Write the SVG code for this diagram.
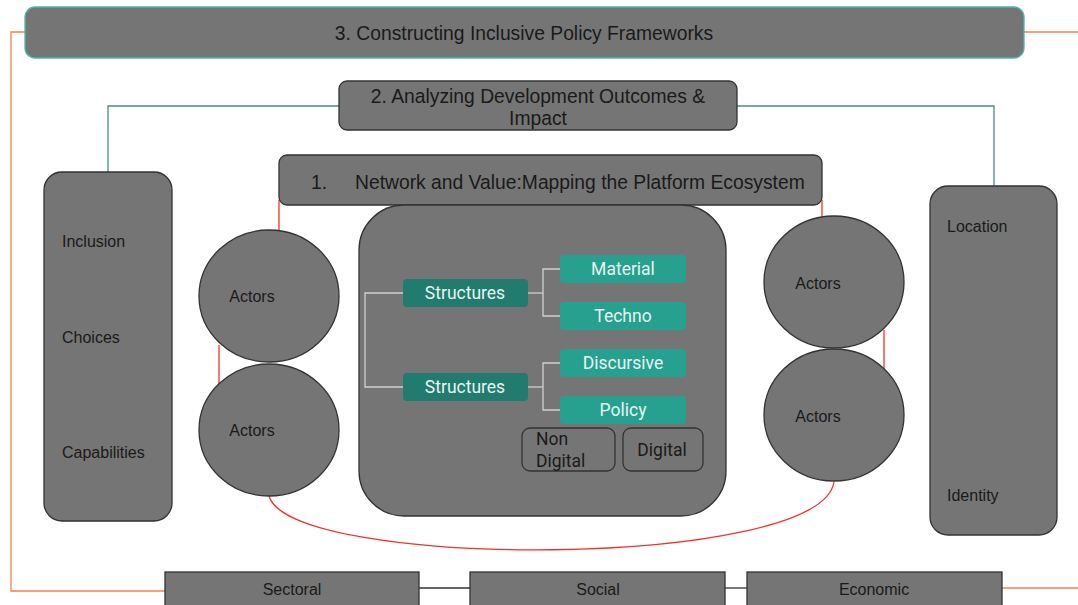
<svg xmlns="http://www.w3.org/2000/svg" width="1078" height="605" viewBox="0 0 1078 605">
<style>
.g{fill:#757575;stroke:#333;stroke-width:1.3}
.t{font-family:"Liberation Sans",Arial,sans-serif;fill:#1a1a1a;font-size:16px}
.h{font-size:19.3px}
.s{fill:#217b6e}
.c{fill:#26a08f}
.w{font-family:Roboto,"Liberation Sans",sans-serif;font-size:17.5px;fill:#e6f4f2;text-anchor:middle}
.d{font-family:Roboto,"Liberation Sans",sans-serif;font-size:17.5px;fill:#1a1a1a}
.tree{fill:none;stroke:#d0d0d0;stroke-width:1.3}
</style>
<rect width="1078" height="605" fill="#fff"/>
<g id="connectors" fill="none">
<polyline points="25,32 11,32 11,591 165,591" stroke="#f4804e" stroke-width="1.3"/>
<line x1="1024" y1="32" x2="1078" y2="32" stroke="#f4804e" stroke-width="1.3"/>
<line x1="1002" y1="588" x2="1078" y2="588" stroke="#f4804e" stroke-width="1.3"/>
<polyline points="339,106 108,106 108,172" stroke="#4a8a85" stroke-width="1.3"/>
<polyline points="737,106 994,106 994,186" stroke="#4a8a85" stroke-width="1.3"/>
<line x1="279" y1="200" x2="279" y2="232" stroke="#f03030" stroke-width="1.3"/>
<line x1="822" y1="200" x2="822" y2="218" stroke="#f03030" stroke-width="1.3"/>
<line x1="219" y1="345" x2="219" y2="385" stroke="#f03030" stroke-width="1.3"/>
<line x1="884" y1="330" x2="884" y2="370" stroke="#f03030" stroke-width="1.3"/>
<path d="M269,496 C290,570 820,570 834,482" stroke="#f03030" stroke-width="1.3"/>
<line x1="419" y1="588" x2="470" y2="588" stroke="#333" stroke-width="1.3"/>
<line x1="725" y1="588" x2="747" y2="588" stroke="#333" stroke-width="1.3"/>
</g>
<g id="box3">
<rect x="25" y="7" width="999" height="51" rx="10" fill="#757575" stroke="#4db6ac" stroke-width="1.3"/>
<text class="t h" x="524" y="40" text-anchor="middle">3. Constructing Inclusive Policy Frameworks</text>
</g>
<g id="box2">
<rect class="g" x="339" y="81" width="398" height="49" rx="8"/>
<text class="t h" x="538" y="103" text-anchor="middle">2. Analyzing Development Outcomes &amp;</text>
<text class="t h" x="538" y="125" text-anchor="middle">Impact</text>
</g>
<g id="box1">
<rect class="g" x="279" y="155" width="543" height="50" rx="8"/>
<text class="t h" x="311" y="189">1.</text>
<text class="t h" x="355" y="189">Network and Value:Mapping the Platform Ecosystem</text>
</g>
<g id="left-box">
<rect class="g" x="44" y="172" width="128" height="349" rx="18"/>
<text class="t" x="62" y="247">Inclusion</text>
<text class="t" x="62" y="343">Choices</text>
<text class="t" x="62" y="458">Capabilities</text>
</g>
<g id="right-box">
<rect class="g" x="930" y="186" width="127" height="349" rx="18"/>
<text class="t" x="947" y="232">Location</text>
<text class="t" x="947" y="501">Identity</text>
</g>
<g id="actors-l1"><ellipse class="g" cx="269" cy="296" rx="70" ry="66"/><text class="t" x="252" y="302" text-anchor="middle">Actors</text></g>
<g id="actors-l2"><ellipse class="g" cx="269" cy="430" rx="70" ry="66"/><text class="t" x="252" y="436" text-anchor="middle">Actors</text></g>
<g id="actors-r1"><ellipse class="g" cx="834" cy="282" rx="70" ry="66"/><text class="t" x="818" y="289" text-anchor="middle">Actors</text></g>
<g id="actors-r2"><ellipse class="g" cx="834" cy="415" rx="70" ry="66"/><text class="t" x="818" y="422" text-anchor="middle">Actors</text></g>
<g id="center-box">
<rect class="g" x="359" y="205" width="367" height="311" rx="45"/>
</g>
<g id="tree">
<polyline class="tree" points="403,293 365,293 365,387 403,387"/>
<polyline class="tree" points="528,293 543,293"/>
<polyline class="tree" points="560,269 543,269 543,316 560,316"/>
<polyline class="tree" points="528,387 543,387"/>
<polyline class="tree" points="560,363 543,363 543,410 560,410"/>
</g>
<g id="structures1"><rect class="s" x="403" y="279" width="125" height="28" rx="4"/><text class="w" x="465" y="299">Structures</text></g>
<g id="structures2"><rect class="s" x="403" y="373" width="125" height="28" rx="4"/><text class="w" x="465" y="393">Structures</text></g>
<g id="material"><rect class="c" x="560" y="255" width="126" height="28" rx="4"/><text class="w" x="623" y="275">Material</text></g>
<g id="techno"><rect class="c" x="560" y="302" width="126" height="28" rx="4"/><text class="w" x="623" y="322">Techno</text></g>
<g id="discursive"><rect class="c" x="560" y="349" width="126" height="28" rx="4"/><text class="w" x="623" y="369">Discursive</text></g>
<g id="policy"><rect class="c" x="560" y="396" width="126" height="28" rx="4"/><text class="w" x="623" y="416">Policy</text></g>
<g id="non-digital">
<rect class="g" x="522" y="428" width="93" height="43" rx="8"/>
<text class="d" x="536" y="445">Non</text>
<text class="d" x="536" y="467">Digital</text>
</g>
<g id="digital">
<rect class="g" x="623" y="428" width="80" height="43" rx="8"/>
<text class="d" x="662" y="456" text-anchor="middle">Digital</text>
</g>
<g id="sectoral"><rect class="g" x="165" y="572" width="254" height="40"/><text class="t" x="292" y="595" text-anchor="middle">Sectoral</text></g>
<g id="social"><rect class="g" x="470" y="572" width="255" height="40"/><text class="t" x="598" y="595" text-anchor="middle">Social</text></g>
<g id="economic"><rect class="g" x="747" y="572" width="255" height="40"/><text class="t" x="874" y="595" text-anchor="middle">Economic</text></g>
</svg>
